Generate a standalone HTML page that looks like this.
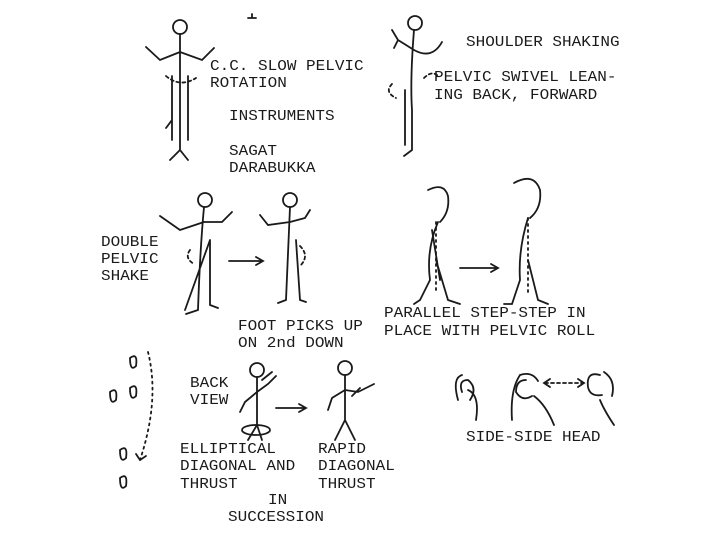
<!DOCTYPE html>
<html><head><meta charset="utf-8"><style>
html,body{margin:0;padding:0;background:#fff}
#c{position:relative;width:720px;height:540px;overflow:hidden;background:#fff}
.t{position:absolute;font-family:"Liberation Mono",monospace;font-size:16px;line-height:16px;color:#1a1a1a;white-space:pre;transform:scaleY(0.95)}
svg{position:absolute;left:0;top:0}
</style></head><body><div id="c">
<svg width="720" height="540" viewBox="0 0 720 540" fill="none" stroke="#1a1a1a" stroke-width="1.8" stroke-linecap="round">
<!-- fig1 -->
<circle cx="180" cy="27" r="7"/><path d="M180 34 V150 M180 150 L170 160 M180 150 L188 160 M180 52 L160 60 L146 47 M180 52 L202 60 L214 48 M172 76 V140 M188 76 V140 M172 120 L166 128"/>
<path d="M166 76 Q180 88 196 78" stroke-dasharray="3 3"/><path d="M248 18 h8 M252 14 v4"/>
<!-- fig2 -->
<circle cx="415" cy="23" r="7"/><path d="M414 30 Q410 80 412 110 V150 M412 150 L404 156 M414 50 L398 40 L392 30 M414 50 Q432 60 442 42 M405 90 V145 M398 40 l-4 8"/>
<path d="M392 84 q-8 8 4 14" stroke-dasharray="3 3"/><path d="M424 78 q8 -8 14 -2" stroke-dasharray="3 3"/>
<!-- fig3 -->
<circle cx="205" cy="200" r="7"/><path d="M204 207 Q200 250 198 310 M198 310 l-12 4 M210 240 L210 305 l8 3 M204 222 L180 230 L160 216 M204 222 L222 222 L232 212 M210 240 L185 310"/>
<path d="M190 250 q-6 8 4 14" stroke-dasharray="3 3"/><path d="M229 261 H262 M256 257 l7 4 l-7 4"/>
<!-- fig4 -->
<circle cx="290" cy="200" r="7"/><path d="M290 207 Q288 250 286 300 M286 300 l-8 3 M296 240 L300 300 l6 2 M290 222 L268 225 L260 215 M290 222 L305 218 L310 210"/>
<path d="M300 246 q10 10 0 20" stroke-dasharray="3 3"/>
<!-- fig5 -->
<path d="M428 190 Q444 182 448 196 Q450 212 440 222 M438 222 Q426 250 430 280 L420 300 L414 304 M436 260 L448 300 L460 304 M432 230 L440 280" /><path d="M436 222 V290" stroke-dasharray="2 4"/>
<path d="M460 268 H497 M491 264 l7 4 l-7 4"/>
<!-- fig6 -->
<path d="M514 183 Q534 172 540 190 Q542 208 530 218 M528 218 Q518 250 520 280 L512 304 L504 304 M528 260 L538 300 L548 304"/><path d="M528 218 V295" stroke-dasharray="2 4"/>
<!-- footprints -->
<path d="M130 358 q8 -6 6 8 q-6 6 -6 -8 M130 388 q8 -6 6 8 q-6 6 -6 -8 M110 392 q8 -6 6 8 q-6 6 -6 -8 M120 450 q8 -6 6 8 q-6 6 -6 -8 M120 478 q8 -6 6 8 q-6 6 -6 -8"/>
<path d="M148 352 Q160 400 140 460" stroke-dasharray="2 4"/><path d="M140 460 l-4 -6 M140 460 l6 -4"/>
<!-- fig7 back view -->
<circle cx="257" cy="370" r="7"/><path d="M257 377 V425 L248 440 M257 425 L262 440 M257 392 L245 402 L240 412 M257 392 L268 384 L276 376 M262 380 l10 -8"/>
<ellipse cx="256" cy="430" rx="14" ry="5"/>
<path d="M276 408 H305 M299 404 l7 4 l-7 4"/>
<!-- fig8 -->
<circle cx="345" cy="368" r="7"/><path d="M345 375 V420 L335 440 M345 420 L355 440 M345 390 L332 398 L328 410 M345 390 L358 392 L366 388 M352 396 l8 -8 M366 388 l8 -4"/>
<!-- heads -->
<path d="M458 400 Q452 378 462 375 M470 400 q8 -12 -2 -20 q-10 0 -6 12 M468 390 Q480 395 476 420"/>
<path d="M512 420 Q510 390 520 375 q12 -4 18 6 M526 380 q-10 0 -10 12 q6 10 16 4 M534 396 Q546 405 554 425"/>
<path d="M545 383 H583" stroke-dasharray="3 3"/><path d="M550 379 l-6 4 l6 4 M578 379 l6 4 l-6 4"/>
<path d="M600 375 q-14 -4 -12 12 q2 10 14 8 M604 372 Q616 380 612 396 M600 400 Q604 410 614 425"/>
</svg>
<div class="t" style="left:210px;top:58px">C.C. SLOW PELVIC</div>
<div class="t" style="left:210px;top:75px">ROTATION</div>
<div class="t" style="left:229px;top:108px">INSTRUMENTS</div>
<div class="t" style="left:229px;top:143px">SAGAT</div>
<div class="t" style="left:229px;top:160px">DARABUKKA</div>
<div class="t" style="left:466px;top:34px">SHOULDER SHAKING</div>
<div class="t" style="left:434px;top:69px">PELVIC SWIVEL LEAN-</div>
<div class="t" style="left:434px;top:87px">ING BACK, FORWARD</div>
<div class="t" style="left:101px;top:234px">DOUBLE</div>
<div class="t" style="left:101px;top:251px">PELVIC</div>
<div class="t" style="left:101px;top:268px">SHAKE</div>
<div class="t" style="left:238px;top:318px">FOOT PICKS UP</div>
<div class="t" style="left:238px;top:335px">ON 2nd DOWN</div>
<div class="t" style="left:384px;top:305px">PARALLEL STEP-STEP IN</div>
<div class="t" style="left:384px;top:323px">PLACE WITH PELVIC ROLL</div>
<div class="t" style="left:190px;top:375px">BACK</div>
<div class="t" style="left:190px;top:392px">VIEW</div>
<div class="t" style="left:180px;top:441px">ELLIPTICAL</div>
<div class="t" style="left:180px;top:458px">DIAGONAL AND</div>
<div class="t" style="left:180px;top:476px">THRUST</div>
<div class="t" style="left:318px;top:441px">RAPID</div>
<div class="t" style="left:318px;top:458px">DIAGONAL</div>
<div class="t" style="left:318px;top:476px">THRUST</div>
<div class="t" style="left:268px;top:492px">IN</div>
<div class="t" style="left:228px;top:509px">SUCCESSION</div>
<div class="t" style="left:466px;top:429px">SIDE-SIDE HEAD</div>
</div></body></html>
